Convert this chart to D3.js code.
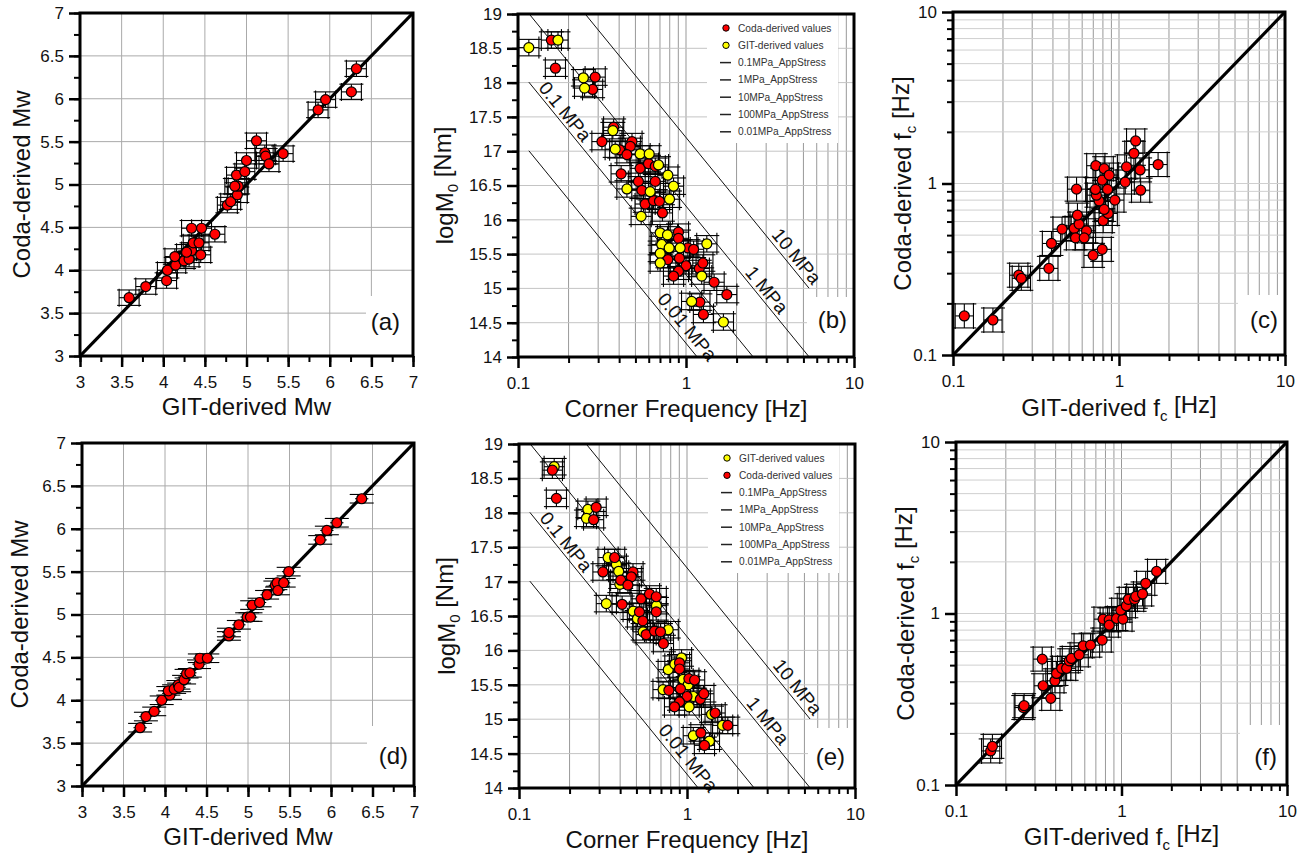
<!DOCTYPE html>
<html><head><meta charset="utf-8">
<script src="https://cdn.jsdelivr.net/npm/d3@7"></script>
<style>body{margin:0;background:#fff}svg text{font-family:"Liberation Sans",Arial,sans-serif}</style>
</head><body>
<svg id="chart" width="1309" height="856"></svg>
<script>
// ---------------- DATA ----------------
const mwTicks=[3,3.5,4,4.5,5,5.5,6,6.5,7];
const m0Ticks=[14,14.5,15,15.5,16,16.5,17,17.5,18,18.5,19];
const logTicks=[0.1,1,10];

// (a) Mw before correction
const mwGitA=[3.59,3.79,4.04,4.05,4.15,4.14,4.25,4.31,4.34,4.28,4.36,4.43,4.45,4.34,4.46,4.62,4.77,4.81,4.89,4.90,4.86,4.88,4.98,5.00,5.12,5.22,5.23,5.27,5.44,5.86,5.95,6.26,6.32];
const mwCodaA=[3.68,3.81,3.88,4.00,4.06,4.16,4.11,4.13,4.23,4.21,4.32,4.32,4.18,4.49,4.49,4.42,4.76,4.80,4.88,4.98,4.98,5.11,5.15,5.28,5.51,5.37,5.33,5.24,5.36,5.87,5.99,6.08,6.35];
// (d) Mw after correction
const mwGitD=[3.70,3.77,3.87,3.96,4.06,4.04,4.11,4.16,4.17,4.23,4.26,4.30,4.41,4.42,4.51,4.77,4.77,4.89,4.99,5.03,5.05,5.14,5.23,5.33,5.35,5.36,5.43,5.49,5.87,5.95,6.07,6.37];
const mwCodaD=[3.68,3.81,3.87,4.00,4.06,4.11,4.13,4.18,4.15,4.24,4.31,4.32,4.42,4.49,4.49,4.75,4.79,4.88,4.97,4.97,5.11,5.14,5.23,5.34,5.37,5.28,5.37,5.50,5.87,5.98,6.07,6.35];

// (b),(e) Coda-derived corner frequency / logM0
const fcCoda=[0.158,0.167,0.288,0.278,0.371,0.316,0.403,0.477,0.466,0.445,0.411,0.533,0.598,0.656,0.521,0.546,0.656,0.571,0.641,0.695,0.724,0.902,0.902,1.026,1.11,0.780,0.914,1.0,0.902,0.843,1.20,1.26,1.47,1.75,1.21,1.27];
const m0Coda=[18.62,18.21,18.08,17.90,17.35,17.14,17.02,17.14,17.07,16.95,16.67,16.75,16.82,16.78,16.56,16.43,16.56,16.23,16.28,16.27,16.10,15.82,15.73,15.59,15.57,15.42,15.44,15.33,15.25,15.18,15.29,15.37,15.09,14.91,14.80,14.62];
// (b) GIT-derived
const fcGitB=[0.116,0.173,0.245,0.249,0.367,0.379,0.533,0.604,0.445,0.686,0.780,0.843,0.798,0.612,0.541,0.702,0.717,0.702,0.776,0.794,0.923,1.33,0.702,1.24,1.08,1.67];
const m0GitB=[18.51,18.62,18.07,17.92,17.30,17.03,16.96,16.96,16.45,16.80,16.65,16.49,16.30,16.41,16.05,15.81,15.64,15.51,15.78,15.59,15.59,15.65,15.37,15.18,14.81,14.51];
// (e) GIT-derived (corrected)
const fcGitE=[0.162,0.257,0.252,0.339,0.380,0.392,0.398,0.331,0.478,0.507,0.658,0.773,0.548,0.773,0.847,0.928,0.948,1.016,1.03,1.09,1.40,1.63,1.09,1.36,0.72];
const m0GitE=[18.67,18.05,17.92,17.35,17.25,17.15,16.96,16.68,16.57,16.46,16.65,16.30,16.27,15.72,15.80,15.89,15.58,15.50,15.18,15.33,15.07,14.91,14.76,14.68,15.43];

// (c) fc before correction
const fcGitC=[0.117,0.174,0.249,0.258,0.378,0.392,0.454,0.537,0.547,0.575,0.562,0.637,0.617,0.555,0.698,0.792,0.803,0.861,0.814,0.759,0.731,0.721,0.853,0.944,0.792,0.725,0.814,0.873,1.09,1.11,1.34,1.35,1.23,1.26,1.72];
const fcCodaC=[0.169,0.160,0.292,0.280,0.320,0.447,0.542,0.547,0.482,0.580,0.654,0.530,0.482,0.927,0.381,0.413,0.607,0.669,0.706,0.793,0.855,0.923,0.923,0.800,1.045,1.27,1.22,1.12,1.02,1.25,1.20,0.914,1.50,1.77,1.29];
// (f) fc after correction
const fcGitF=[0.162,0.166,0.255,0.258,0.332,0.336,0.374,0.396,0.405,0.435,0.466,0.483,0.498,0.555,0.587,0.650,0.764,0.774,0.843,0.843,0.933,1.02,0.990,1.07,1.10,1.20,1.22,1.34,1.40,1.63];
const fcCodaF=[0.158,0.168,0.283,0.290,0.542,0.379,0.320,0.405,0.447,0.479,0.479,0.530,0.547,0.574,0.648,0.654,0.700,0.927,0.918,0.855,0.935,0.927,1.045,1.11,1.21,1.21,1.26,1.30,1.50,1.76];

// apparent stress lines: logM0 = intercept - 3*log10(fc)
const stressLabels=["0.01 MPa","0.1 MPa","1 MPa","10 MPa"];
const stressIntercepts=[14.2,15.2,16.2,17.2];
const stressLabelFc=[1.02,0.191,3.03,4.56];
const stressLabelM0=[14.44,17.58,14.98,15.47];
const stressFcRange=[0.116,5.4];

const legendB=[["Coda-derived values","#ff0000"],["GIT-derived values","#ffff00"],["0.1MPa_AppStress",null],["1MPa_AppStress",null],["10MPa_AppStress",null],["100MPa_AppStress",null],["0.01MPa_AppStress",null]];
const legendE=[["GIT-derived values","#ffff00"],["Coda-derived values","#ff0000"],["0.1MPa_AppStress",null],["1MPa_AppStress",null],["10MPa_AppStress",null],["100MPa_AppStress",null],["0.01MPa_AppStress",null]];

// ---------------- DRAWING ----------------
const svg=d3.select("#chart");
const FONT='"Liberation Sans",Arial,sans-serif';
function logMinors(){const a=[];[0.1,1].forEach(dec=>{for(let k=2;k<=9;k++)a.push(+(k*dec).toFixed(3));});return a;}
function linMinors(lo,hi,step){return d3.range(lo,hi+1e-9,step).map(v=>+v.toFixed(3));}

let clipN=0;
function panel(o){
  const b=o.box;
  const g=svg.append("g");
  const x=(o.xLog?d3.scaleLog():d3.scaleLinear()).domain(o.xDom).range([b.l,b.r]);
  const y=(o.yLog?d3.scaleLog():d3.scaleLinear()).domain(o.yDom).range([b.b,b.t]);
  // grid
  g.append("g").selectAll("line").data(o.xGrid).join("line")
    .attr("x1",d=>x(d)).attr("x2",d=>x(d)).attr("y1",b.t).attr("y2",b.b)
    .attr("stroke",o.xGridColor).attr("stroke-width",1);
  g.append("g").selectAll("line").data(o.yGrid).join("line")
    .attr("y1",d=>y(d)).attr("y2",d=>y(d)).attr("x1",b.l).attr("x2",b.r)
    .attr("stroke",o.yGridColor).attr("stroke-width",1);
  // white boxes (legend, panel label)
  if(o.legend){
    g.append("rect").attr("x",b.l+189).attr("y",b.t).attr("width",131).attr("height",129).attr("fill","#fff");
  }
  g.append("rect").attr("x",b.r-47).attr("y",b.b-60).attr("width",47).attr("height",60).attr("fill","#fff");
  // clip
  const cid="clip"+(clipN++);
  svg.append("clipPath").attr("id",cid).append("rect").attr("x",b.l).attr("y",b.t).attr("width",b.r-b.l).attr("height",b.b-b.t);
  const inner=g.append("g").attr("clip-path",`url(#${cid})`);
  // stress lines
  if(o.stress){
    stressIntercepts.forEach((c,i)=>{
      const f0=stressFcRange[0],f1=stressFcRange[1];
      const x0=x(f0),y0=y(c-3*Math.log10(f0)),x1=x(f1),y1=y(c-3*Math.log10(f1));
      inner.append("line").attr("x1",x0).attr("y1",y0).attr("x2",x1).attr("y2",y1)
        .attr("stroke","#111").attr("stroke-width",1);
      const ang=Math.atan2(y1-y0,x1-x0)*180/Math.PI;
      const lx=x(stressLabelFc[i]),ly=y(stressLabelM0[i]);
      g.append("text").attr("transform",`translate(${lx},${ly}) rotate(${ang})`)
        .attr("text-anchor","middle").attr("dy","0.35em").attr("font-size",19).attr("fill","#111")
        .attr("font-family",FONT).text(stressLabels[i]);
    });
  }
  // 1:1 line
  if(o.diag){
    inner.append("line").attr("x1",x(o.xDom[0])).attr("y1",y(o.yDom[0])).attr("x2",x(o.xDom[1])).attr("y2",y(o.yDom[1]))
      .attr("stroke","#000").attr("stroke-width",3.2);
  }
  // error bars
  const eg=inner.append("g").attr("stroke","#000").attr("stroke-width",1.1).attr("fill","none");
  const xLo=v=>o.xLog?v/Math.pow(10,o.ex):v-o.ex, xHi=v=>o.xLog?v*Math.pow(10,o.ex):v+o.ex;
  const yLo=v=>o.yLog?v/Math.pow(10,o.ey):v-o.ey, yHi=v=>o.yLog?v*Math.pow(10,o.ey):v+o.ey;
  o.series.forEach(s=>{
    s.x.forEach((xv,i)=>{
      const yv=s.y[i],px=x(xv),py=y(yv);
      const xl=x(xLo(xv)),xh=x(xHi(xv)),yl=y(yLo(yv)),yh=y(yHi(yv));
      eg.append("line").attr("x1",xl).attr("x2",xh).attr("y1",py).attr("y2",py);
      eg.append("line").attr("x1",px).attr("x2",px).attr("y1",yl).attr("y2",yh);
      [yl,yh].forEach(yy=>eg.append("line").attr("x1",px-o.capY).attr("x2",px+o.capY).attr("y1",yy).attr("y2",yy));
      if(o.capX>0)[xl,xh].forEach(xx=>eg.append("line").attr("x1",xx).attr("x2",xx).attr("y1",py-o.capX).attr("y2",py+o.capX));
    });
  });
  // dots
  o.series.forEach(s=>{
    inner.append("g").selectAll("circle").data(s.x.map((v,i)=>[v,s.y[i]])).join("circle")
      .attr("cx",d=>x(d[0])).attr("cy",d=>y(d[1])).attr("r",5)
      .attr("fill",s.fill).attr("stroke","#000").attr("stroke-width",1.2);
  });
  // legend
  if(o.legend){
    o.legend.forEach((it,i)=>{
      const ly=b.t+14+i*17.3;
      if(it[1]){
        g.append("circle").attr("cx",b.l+208).attr("cy",ly).attr("r",3.2).attr("fill",it[1]).attr("stroke","#000").attr("stroke-width",1);
      }else{
        g.append("line").attr("x1",b.l+202).attr("x2",b.l+213).attr("y1",ly).attr("y2",ly).attr("stroke","#222").attr("stroke-width",1.5);
      }
      g.append("text").attr("x",b.l+220).attr("y",ly).attr("dy","0.35em").attr("font-size",10.2)
        .attr("fill","#333").attr("font-family",FONT).text(it[0]);
    });
  }
  // frame
  g.append("rect").attr("x",b.l).attr("y",b.t).attr("width",b.r-b.l).attr("height",b.b-b.t)
    .attr("fill","none").attr("stroke","#000").attr("stroke-width",3);
  // axes
  const style=(s,w)=>{s.select(".domain").remove();s.selectAll("line").attr("stroke","#000").attr("stroke-width",w);
    s.selectAll("text").attr("font-size",17).attr("fill","#111").attr("font-family",FONT);};
  const fmt=d=>String(d);
  g.append("g").attr("transform",`translate(0,${b.b})`).call(d3.axisBottom(x).tickValues(o.xMinor).tickSize(6).tickFormat("")).call(s=>style(s,2));
  g.append("g").attr("transform",`translate(0,${b.b})`).call(d3.axisBottom(x).tickValues(o.xMajor).tickSize(11).tickPadding(9).tickFormat(fmt)).call(s=>style(s,2.5));
  g.append("g").attr("transform",`translate(${b.l},0)`).call(d3.axisLeft(y).tickValues(o.yMinor).tickSize(6).tickFormat("")).call(s=>style(s,2));
  g.append("g").attr("transform",`translate(${b.l},0)`).call(d3.axisLeft(y).tickValues(o.yMajor).tickSize(11).tickPadding(5).tickFormat(fmt)).call(s=>style(s,2.5));
  // titles
  const xt=g.append("text").attr("x",(b.l+b.r)/2).attr("y",b.b+o.xTitleDy).attr("text-anchor","middle")
    .attr("font-size",24).attr("fill","#111").attr("font-family",FONT);
  o.xTitle.forEach(p=>{const t=xt.append("tspan").text(p[0]);if(p[1]==="sub")t.attr("font-size",15).attr("dy","0.3em");if(p[1]==="after")t.attr("dy","-0.3em");});
  const yt=g.append("text").attr("transform",`translate(${b.l+o.yTitleDx},${(b.t+b.b)/2}) rotate(-90)`)
    .attr("text-anchor","middle").attr("dy","0.35em").attr("font-size",24).attr("fill","#111").attr("font-family",FONT);
  o.yTitle.forEach(p=>{const t=yt.append("tspan").text(p[0]);if(p[1]==="sub")t.attr("font-size",15).attr("dy","0.3em");if(p[1]==="after")t.attr("dy","-0.3em");});
  // panel label
  g.append("text").attr("x",b.r-o.lab[1]).attr("y",b.b-o.lab[2]).attr("text-anchor","end")
    .attr("font-size",24).attr("fill","#111").attr("font-family",FONT).text(o.lab[0]);
}

const mwMinor=linMinors(3,7,0.25), m0Minor=linMinors(14,19,0.25);
const lm=logMinors();
const mwBase={xDom:[3,7],yDom:[3,7],xMajor:mwTicks,yMajor:mwTicks,xMinor:mwMinor,yMinor:mwMinor,
  xGrid:mwTicks,yGrid:mwTicks,xGridColor:"#aaa",yGridColor:"#aaa",diag:true,
  xTitle:[["GIT-derived Mw"]],yTitle:[["Coda-derived Mw"]],capY:12};
const m0Base={xLog:true,xDom:[0.1,10],yDom:[14,19],xMajor:logTicks,xMinor:lm,yMajor:m0Ticks,yMinor:m0Minor,
  xGrid:lm.concat([1]),yGrid:m0Ticks,xGridColor:"#999",yGridColor:"#c4c4c4",stress:true,
  xTitle:[["Corner Frequency [Hz]"]],yTitle:[["logM"],["0","sub"],[" [Nm]","after"]],ex:0.06,ey:0.12,capX:11,capY:12.5};
const fcBase={xLog:true,yLog:true,xDom:[0.1,10],yDom:[0.1,10],xMajor:logTicks,yMajor:logTicks,xMinor:lm,yMinor:lm,
  xGrid:lm.concat([1]),yGrid:lm.concat([1]),xGridColor:"#999",yGridColor:"#cfcfcf",diag:true,
  xTitle:[["GIT-derived f"],["c","sub"],[" [Hz]","after"]],yTitle:[["Coda-derived f"],["c","sub"],[" [Hz]","after"]],ex:0.055,ey:0.07,capX:13,capY:12};

panel(Object.assign({},mwBase,{box:{l:80,r:413,t:13,b:356},ex:0.12,ey:0.09,capX:9,xTitleDy:59,yTitleDx:-58,lab:["(a)",13,26],
  series:[{x:mwGitA,y:mwCodaA,fill:"#ff0000"}]}));
panel(Object.assign({},m0Base,{box:{l:518,r:854,t:14,b:357},xTitleDy:60,yTitleDx:-73,lab:["(b)",7,29],legend:legendB,
  series:[{x:fcCoda,y:m0Coda,fill:"#ff0000"},{x:fcGitB,y:m0GitB,fill:"#ffff00"}]}));
panel(Object.assign({},fcBase,{box:{l:953,r:1285,t:12,b:355},xTitleDy:61,yTitleDx:-50,lab:["(c)",7,27],
  series:[{x:fcGitC,y:fcCodaC,fill:"#ff0000"}]}));
panel(Object.assign({},mwBase,{box:{l:82,r:414,t:443,b:786},ex:0.08,ey:0.05,capX:0,xTitleDy:59,yTitleDx:-62,lab:["(d)",6,22],
  series:[{x:mwGitD,y:mwCodaD,fill:"#ff0000"}]}));
panel(Object.assign({},m0Base,{box:{l:519,r:855,t:444,b:788},xTitleDy:60,yTitleDx:-72,lab:["(e)",10,23],legend:legendE,
  series:[{x:fcGitE,y:m0GitE,fill:"#ffff00"},{x:fcCoda,y:m0Coda,fill:"#ff0000"}]}));
panel(Object.assign({},fcBase,{box:{l:956,r:1287,t:442,b:785},xTitleDy:60,yTitleDx:-50,lab:["(f)",10,20],
  series:[{x:fcGitF,y:fcCodaF,fill:"#ff0000"}]}));
</script>
</body></html>
